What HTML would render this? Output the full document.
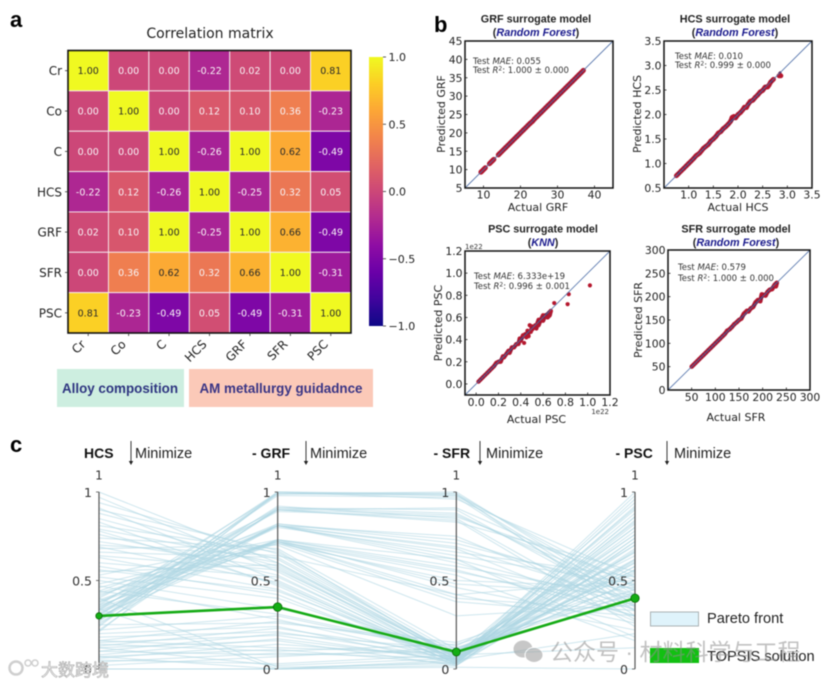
<!DOCTYPE html>
<html lang="en">
<head>
<meta charset="utf-8">
<title>Surrogate models and Pareto front figure</title>
<style>
  html,body{margin:0;padding:0;background:#fff;width:827px;height:684px;overflow:hidden}
  svg{display:block;filter:blur(0.5px)}
  text{font-family:"DejaVu Sans","Liberation Sans",sans-serif}
  .lib{font-family:"Liberation Sans","DejaVu Sans",sans-serif}
  .cjk{font-family:"Liberation Sans","Noto Sans CJK SC",sans-serif}
</style>
</head>
<body>
<svg id="fig" xmlns="http://www.w3.org/2000/svg" width="827" height="684" viewBox="0 0 827 684">
  <rect width="827" height="684" fill="#fff"/>
  <defs><linearGradient id="cbGrad" x1="0" y1="1" x2="0" y2="0"></linearGradient></defs>

  <text class="lib" x="10" y="27" font-size="22" font-weight="700">a</text>
  <text class="lib" x="434" y="32" font-size="22" font-weight="700">b</text>
  <text class="lib" x="10" y="452" font-size="22" font-weight="700">c</text>

  <text x="210" y="38" font-size="14" text-anchor="middle" fill="#222">Correlation matrix</text>
  <g id="heatmap"></g>
  <g id="colorbar"></g>

  <rect x="57" y="369" width="127" height="38" fill="#cdeee0"/>
  <text class="lib" x="120" y="393" font-size="13.4" font-weight="700" text-anchor="middle" fill="#2e3580">Alloy composition</text>
  <rect x="189" y="369" width="184" height="38" fill="#fbc9b8"/>
  <text class="lib" x="281" y="393" font-size="13.4" font-weight="700" text-anchor="middle" fill="#3a3585">AM metallurgy guidadnce</text>

  <g id="scatters"></g>
  <g id="parallel"></g>

  <g>
    <rect x="650.5" y="612" width="48" height="14" fill="#dff3fb" stroke="#aab2b5"/>
    <text class="lib" x="707" y="623" font-size="14.6" fill="#222">Pareto front</text>
    <rect x="650" y="648" width="49" height="15" fill="#12c012"/>
    <text class="lib" x="707" y="661" font-size="14.6" fill="#222">TOPSIS solution</text>
  </g>

  <g opacity="0.55">
    <ellipse cx="523" cy="649" rx="9.5" ry="8.5" fill="#9a9a9a"/>
    <ellipse cx="534" cy="655" rx="9" ry="7.5" fill="#9a9a9a" stroke="#fff"/>
    <text class="cjk" x="550" y="660" font-size="23" fill="#8f8f8f" xml:space="preserve">公众号 · 材料科学与工程</text>
  </g>
  <g>
    <circle cx="16" cy="668" r="6.5" fill="none" stroke="#cfcfcf" stroke-width="2.5"/>
    <circle cx="28" cy="663" r="3" fill="none" stroke="#cfcfcf" stroke-width="1.5"/>
    <circle cx="35" cy="663" r="3" fill="none" stroke="#cfcfcf" stroke-width="1.5"/>
    <text class="cjk" x="41" y="676" font-size="17" fill="#f4f4f4" stroke="#a8a8a8" stroke-width="0.6">大数跨境</text>
  </g>
</svg>

<script>
/* ---------- chart data ---------- */
const matrixLabels = ['Cr','Co','C','HCS','GRF','SFR','PSC'];
const matrixValues = [
  [1.00,0.00,0.00,-0.22,0.02,0.00,0.81],
  [0.00,1.00,0.00,0.12,0.10,0.36,-0.23],
  [0.00,0.00,1.00,-0.26,1.00,0.62,-0.49],
  [-0.22,0.12,-0.26,1.00,-0.25,0.32,0.05],
  [0.02,0.10,1.00,-0.25,1.00,0.66,-0.49],
  [0.00,0.36,0.62,0.32,0.66,1.00,-0.31],
  [0.81,-0.23,-0.49,0.05,-0.49,-0.31,1.00]
];
const colorbarTicks = [1.0,0.5,0.0,-0.5,-1.0];

const grfActual = [9.3,9.6,9.9,10.2,10.5,11.6,11.9,12.2,12.5,12.8,14,14.4,14.9,15.4,16,16.6,17.2,17.8,18.4,19,19.6,20.2,20.8,21.4,22,22.6,23.2,23.8,24.4,25,25.6,26.2,26.8,27.4,28,28.6,29.2,29.8,30.4,31,31.6,32.2,32.8,33.4,34,34.6,35.2,35.8,36.4,37];
const grfPredicted = [9.3,9.6,9.9,10.2,10.5,11.6,11.9,12.2,12.5,12.8,14,14.4,14.9,15.4,16,16.6,17.2,17.8,18.4,19,19.6,20.2,20.8,21.4,22,22.6,23.1,23.8,24.4,25,25.6,26.2,26.8,27.4,28,28.6,29.2,29.8,30.4,31,31.6,32.2,32.8,33.4,34,34.6,35.2,35.8,36.4,37];

const hcsActual = [0.75,0.78,0.85,0.9,0.95,1.0,1.05,1.1,1.15,1.18,1.22,1.26,1.3,1.35,1.4,1.45,1.5,1.55,1.6,1.65,1.7,1.75,1.8,1.85,1.88,1.92,1.95,2.0,2.05,2.1,2.13,2.17,2.2,2.25,2.3,2.35,2.4,2.45,2.5,2.55,2.6,2.63,2.66,2.72,2.83,2.87];
const hcsPredicted = [0.75,0.78,0.85,0.9,0.95,1.0,1.05,1.1,1.16,1.18,1.21,1.26,1.31,1.35,1.39,1.46,1.5,1.55,1.62,1.65,1.71,1.75,1.8,1.86,1.94,1.96,1.93,2.0,2.04,2.1,2.15,2.14,2.2,2.27,2.29,2.35,2.4,2.46,2.49,2.56,2.56,2.6,2.66,2.72,2.79,2.79];

const pscActual = [0.02,0.04,0.06,0.08,0.1,0.12,0.14,0.16,0.18,0.2,0.22,0.24,0.25,0.27,0.29,0.3,0.32,0.34,0.36,0.38,0.39,0.4,0.42,0.43,0.44,0.45,0.46,0.47,0.48,0.49,0.5,0.5,0.52,0.53,0.54,0.55,0.56,0.56,0.58,0.6,0.6,0.62,0.64,0.66,0.67,0.7,0.82,0.83,1.02];
const pscPredicted = [0.02,0.04,0.06,0.08,0.1,0.12,0.14,0.16,0.19,0.2,0.2,0.25,0.24,0.27,0.3,0.28,0.33,0.33,0.36,0.36,0.41,0.39,0.44,0.37,0.45,0.42,0.48,0.43,0.53,0.47,0.52,0.49,0.51,0.53,0.5,0.55,0.58,0.53,0.58,0.62,0.57,0.62,0.6,0.62,0.66,0.73,0.72,0.81,0.89];

const sfrActual = [50,54,58,62,66,70,75,80,85,90,95,100,105,110,115,120,125,130,135,140,145,150,155,160,163,167,170,175,180,185,190,195,198,202,206,210,215,220,225,230,228];
const sfrPredicted = [50,54,58,62,66,70,75,80,85,90,95,100,105,110,115,120,127,130,135,141,145,150,153,163,166,170,168,175,178,188,193,190,205,204,202,210,215,216,225,230,222];

const axisNames = ['HCS','- GRF','- SFR','- PSC'];
const parallelTicks = [1,0.5,0];
const topsisSolution = [0.30,0.35,0.096,0.40];
/* one row per Pareto solution: HCS, GRF, SFR, PSC */
const paretoRows = [
  [0.21,1.00,0.99,0.30],[0.24,0.99,1.00,0.38],[0.27,1.00,0.98,0.46],[0.30,0.98,0.97,0.33],[0.33,1.00,0.96,0.52],[0.36,0.99,0.99,0.42],
  [0.22,0.91,0.90,0.35],[0.25,0.90,0.91,0.47],[0.28,0.92,0.85,0.28],[0.31,0.90,0.83,0.55],[0.34,0.91,0.88,0.40],[0.37,0.89,0.86,0.50],[0.40,0.90,0.84,0.24],
  [0.26,0.81,0.75,0.33],[0.29,0.82,0.71,0.45],[0.32,0.81,0.68,0.27],[0.35,0.80,0.66,0.52],[0.38,0.81,0.62,0.36],[0.41,0.82,0.73,0.42],[0.44,0.81,0.60,0.30],
  [0.30,0.73,0.58,0.40],[0.33,0.72,0.55,0.34],[0.36,0.71,0.50,0.46],[0.39,0.73,0.46,0.26],[0.42,0.72,0.42,0.50],[0.46,0.71,0.38,0.30],[0.48,0.72,0.53,0.16],
  [0.27,0.90,0.87,0.44],[0.35,0.81,0.69,0.38],[0.38,0.72,0.48,0.42],[0.43,0.72,0.40,0.33],[0.31,0.81,0.64,0.48],[0.28,0.99,0.98,0.36],[0.34,0.73,0.56,0.30],
  [1.00,0.60,0.08,0.94],[0.97,0.55,0.05,0.88],[0.94,0.65,0.07,0.80],[0.91,0.50,0.04,0.98],[0.88,0.62,0.06,0.76],[0.85,0.58,0.05,0.70],[0.83,0.47,0.03,0.84],
  [0.81,0.66,0.09,0.66],[0.79,0.60,0.06,0.91],[0.76,0.53,0.04,0.72],[0.74,0.68,0.11,0.60],[0.72,0.57,0.05,0.78],[0.69,0.49,0.03,0.86],[0.66,0.63,0.08,0.56],
  [0.63,0.45,0.03,0.68],[0.60,0.52,0.05,0.74],[0.58,0.42,0.02,0.62],[0.55,0.59,0.07,0.50],[0.52,0.40,0.04,0.82],
  [0.50,0.34,0.13,0.64],[0.47,0.28,0.05,0.58],[0.44,0.31,0.10,0.70],[0.25,0.26,0.15,0.48],[0.22,0.30,0.09,0.76],[0.20,0.24,0.03,0.60],[0.18,0.21,0.06,0.90],
  [0.16,0.27,0.12,0.45],[0.15,0.19,0.04,0.67],[0.13,0.23,0.08,0.54],[0.12,0.16,0.02,0.72],[0.10,0.20,0.11,0.43],[0.08,0.17,0.05,0.80],[0.06,0.14,0.07,0.50],
  [0.16,0.12,0.09,0.62],[0.14,0.10,0.14,0.42],[0.10,0.08,0.10,0.56],[0.07,0.11,0.03,0.86],[0.04,0.09,0.06,0.66],[0.02,0.07,0.12,0.38],[0.00,0.00,0.01,0.00],
  [0.40,0.01,0.03,0.96],[0.34,0.00,0.05,1.00],[0.12,0.02,0.06,0.83],[0.07,0.00,0.02,0.74],[0.05,0.03,0.08,0.61],[0.00,0.00,0.04,0.92],
  [0.70,0.64,0.42,0.22],[0.64,0.56,0.08,0.12],[0.78,0.48,0.05,0.20],[0.56,0.44,0.06,0.58],[0.90,0.67,0.06,0.55],[0.53,0.73,0.62,0.18],[0.68,0.70,0.30,0.36]
];

/* ---------- helpers ---------- */
const NS = 'http://www.w3.org/2000/svg';
function add(parent, tag, attrs, txt) {
  const el = document.createElementNS(NS, tag);
  for (const k in attrs) el.setAttribute(k, attrs[k]);
  if (txt !== undefined) el.textContent = txt;
  parent.appendChild(el);
  return el;
}
function linear(d0, d1, r0, r1) { return v => r0 + (v - d0) * (r1 - r0) / (d1 - d0); }
const plasmaStops = ['#0d0887','#41049d','#6a00a8','#8f0da4','#b12a90','#cc4778','#e16462','#f2844b','#fca636','#fcce25','#f0f921'];
function hexRgb(h) { return [1,3,5].map(i => parseInt(h.substr(i,2),16)); }
function plasma(t) {
  t = Math.max(0, Math.min(1, t));
  const p = t * 10, i = Math.min(9, Math.floor(p)), f = p - i;
  const a = hexRgb(plasmaStops[i]), b = hexRgb(plasmaStops[i+1]);
  return 'rgb(' + a.map((c,j) => Math.round(c + (b[j]-c)*f)).join(',') + ')';
}
function fmt(v, d) { return v.toFixed(d); }

/* ---------- heatmap ---------- */
(function () {
  const g = document.getElementById('heatmap');
  const L = 68, R = 351, T = 50.5, B = 333;
  const n = matrixLabels.length;
  const col = linear(0, n, L, R), row = linear(0, n, T, B);
  const cw = (R - L) / n, ch = (B - T) / n;
  matrixValues.forEach((rowVals, r) => {
    rowVals.forEach((v, c) => {
      const cell = add(g, 'rect', {x: col(c), y: row(r), width: cw, height: ch, fill: plasma((v + 1) / 2), stroke: '#f7eef2', 'stroke-width': 0.9});
      
      
      const t = add(g, 'text', {x: col(c + 0.5), y: row(r + 0.5) + 3.5, 'font-size': 9.5, 'text-anchor': 'middle', fill: v > 0.5 ? '#2a2a2a' : '#f7f3f5'}, fmt(v, 2));
      
      
    });
  });
  const frame = add(g, 'rect', {x: L, y: T, width: R - L, height: B - T, fill: 'none', stroke: '#111', 'stroke-width': 1.6});
  
  
  matrixLabels.forEach((lab, i) => {
    const yl = add(g, 'text', {x: 62, y: row(i + 0.5) + 4.5, 'font-size': 12, 'text-anchor': 'end', fill: '#222'}, lab);
    
    
    const yt = add(g, 'line', {x1: 65, x2: 68, y1: row(i + 0.5), y2: row(i + 0.5), stroke: '#333', 'stroke-width': 0.8});
    
    
    const xt = add(g, 'line', {x1: col(i + 0.5), x2: col(i + 0.5), y1: 333, y2: 336, stroke: '#333', 'stroke-width': 0.8});
    
    
    const xl = add(g, 'text', {transform: 'translate(' + (col(i + 0.5) - 2) + ',345) rotate(-45)', 'font-size': 12, 'text-anchor': 'end', fill: '#222'}, lab);
    
    
  });
})();

/* ---------- colorbar ---------- */
(function () {
  const grad = document.getElementById('cbGrad');
  plasmaStops.forEach((c, i) => add(grad, 'stop', {offset: (i * 10) + '%', 'stop-color': c}));
  const g = document.getElementById('colorbar');
  const y = linear(-1, 1, 326, 57);
  const bar = add(g, 'rect', {x: 369, y: 57, width: 14, height: 269, fill: 'url(#cbGrad)'});
  
  
  colorbarTicks.forEach(v => {
    const tk = add(g, 'line', {x1: 383, x2: 386, y1: y(v), y2: y(v), stroke: '#333', 'stroke-width': 0.8});
    
    
    const lb = add(g, 'text', {x: 388.5, y: y(v) + 4, 'font-size': 11, fill: '#222'}, fmt(v, 1).replace('-', '\u2212'));
    
    
  });
})();

/* ---------- scatter panels ---------- */
function scatterPanel(o) {
  const root = document.getElementById('scatters');
  const g = add(root, 'g', {});
  
  
  const x = linear(o.dom[0], o.dom[1], o.L, o.R);
  const y = linear(o.dom[0], o.dom[1], o.B, o.T);
  const cx = (o.L + o.R) / 2;

  const t1 = add(g, 'text', {x: o.tcx, y: o.ty, 'font-size': 10.8, 'font-weight': 700, 'text-anchor': 'middle', fill: '#222', class: 'lib'}, o.name + ' surrogate model');
  
  
  const t2 = add(g, 'text', {x: o.tcx, y: o.ty + 13.5, 'font-size': 10.8, 'font-weight': 700, 'text-anchor': 'middle', fill: '#222', class: 'lib'});
  
  
  add(t2, 'tspan', {}, '(');
  add(t2, 'tspan', {'font-style': 'italic', fill: '#1a1a8c'}, o.model);
  add(t2, 'tspan', {}, ')');

  o.actual.forEach((a, i) => {
    const pt = add(g, 'circle', {cx: x(a), cy: y(o.pred[i]), r: o.r, fill: '#b5172e'});
    
    
    const nextA = o.actual[i + 1];
    if (nextA !== undefined && Math.abs(nextA - a) < o.gap && Math.abs(o.pred[i + 1] - o.pred[i]) < o.gap * 2) {
      const seg = add(g, 'line', {x1: x(a), y1: y(o.pred[i]), x2: x(nextA), y2: y(o.pred[i + 1]), stroke: '#a81a34', 'stroke-width': o.r * 2});
      
      
      const core = add(g, 'line', {x1: x(a), y1: y(a), x2: x(nextA), y2: y(nextA), stroke: '#6a1a42', 'stroke-width': 2.6});
      
      
    }
  });
  const diag = add(g, 'line', {x1: x(o.dom[0]), y1: y(o.dom[0]), x2: x(o.dom[1]), y2: y(o.dom[1]), stroke: '#4f6fa8', 'stroke-width': 0.9, 'stroke-opacity': 0.9});
  
  
  const frame = add(g, 'rect', {x: o.L, y: o.T, width: o.R - o.L, height: o.B - o.T, fill: 'none', stroke: '#111', 'stroke-width': 1.5});
  
  

  o.xt.forEach(v => {
    const tk = add(g, 'line', {x1: x(v), x2: x(v), y1: o.B, y2: o.B - 2.5, stroke: '#222', 'stroke-width': 0.8});
    
    
    const lb = add(g, 'text', {x: x(v), y: o.B + o.xtGap, 'font-size': 10.8, 'text-anchor': 'middle', fill: '#222'}, fmt(v, o.dec));
    
    
  });
  o.yt.forEach(v => {
    const tk = add(g, 'line', {x1: o.L, x2: o.L + 2.5, y1: y(v), y2: y(v), stroke: '#222', 'stroke-width': 0.8});
    
    
    const lb = add(g, 'text', {x: o.L - 2.5, y: y(v) + 4, 'font-size': 10.8, 'text-anchor': 'end', fill: '#222'}, fmt(v, o.dec));
    
    
  });
  const xl = add(g, 'text', {x: cx + o.xlOff, y: o.xly, 'font-size': 11, 'text-anchor': 'middle', fill: '#222'}, 'Actual ' + o.name);
  
  
  const yl = add(g, 'text', {transform: 'translate(' + o.ylx + ',' + o.yly + ') rotate(-90)', 'font-size': 11, 'text-anchor': 'middle', fill: '#222'}, 'Predicted ' + o.name);
  
  

  const a1 = add(g, 'text', {x: o.ax, y: o.ay, 'font-size': 8.5, fill: '#333'});
  
  
  add(a1, 'tspan', {}, 'Test ');
  add(a1, 'tspan', {'font-style': 'italic'}, 'MAE');
  add(a1, 'tspan', {}, ': ' + o.mae);
  const a2 = add(g, 'text', {x: o.ax, y: o.ay + o.aGap, 'font-size': 8.5, fill: '#333'});
  
  
  add(a2, 'tspan', {}, 'Test ');
  add(a2, 'tspan', {'font-style': 'italic'}, 'R');
  add(a2, 'tspan', {dy: -2.5, 'font-size': 6}, '2');
  add(a2, 'tspan', {dy: 2.5}, ': ' + o.r2);
  return g;
}

scatterPanel({key:'grf', name:'GRF', model:'Random Forest', dom:[5,45], L:465, R:613, T:41, B:188, tcx:536, ty:22.5,
  actual:grfActual, pred:grfPredicted, r:2.5, gap:0.8, xt:[10,20,30,40], yt:[5,10,15,20,25,30,35,40,45], dec:0, xtGap:10.5,
  xlOff:-1, xly:211, ylx:445, yly:114, ax:473, ay:64, aGap:9, mae:'0.055', r2:'1.000 \u00b1 0.000'});
scatterPanel({key:'hcs', name:'HCS', model:'Random Forest', dom:[0.5,3.5], L:664, R:812, T:41, B:188, tcx:735, ty:22.5,
  actual:hcsActual, pred:hcsPredicted, r:2.4, gap:0.1, xt:[1,1.5,2,2.5,3,3.5], yt:[0.5,1,1.5,2,2.5,3,3.5], dec:1, xtGap:10.5,
  xlOff:0, xly:211, ylx:641, yly:114, ax:675, ay:59, aGap:9, mae:'0.010', r2:'0.999 \u00b1 0.000'});
const pscPanel = scatterPanel({key:'psc', name:'PSC', model:'KNN', dom:[-0.1,1.2], L:465, R:610, T:251, B:395, tcx:543, ty:232.5,
  actual:pscActual, pred:pscPredicted, r:2.1, gap:0.03, xt:[0,0.2,0.4,0.6,0.8,1,1.2], yt:[0,0.2,0.4,0.6,0.8,1,1.2], dec:1, xtGap:11,
  xlOff:-1, xly:423, ylx:442, yly:323, ax:474, ay:279, aGap:10, mae:'6.333e+19', r2:'0.996 \u00b1 0.001'});
scatterPanel({key:'sfr', name:'SFR', model:'Random Forest', dom:[0,300], L:668, R:810, T:250, B:390, tcx:736, ty:232.5,
  actual:sfrActual, pred:sfrPredicted, r:2.2, gap:10, xt:[50,100,150,200,250,300], yt:[0,50,100,150,200,250,300], dec:0, xtGap:11,
  xlOff:-3, xly:421, ylx:642, yly:320, ax:678, ay:270, aGap:11, mae:'0.579', r2:'1.000 \u00b1 0.000'});
(function () {
  const o1 = add(pscPanel, 'text', {x: 465, y: 249, 'font-size': 7, fill: '#333'}, '1e22');
  
  
  const o2 = add(pscPanel, 'text', {x: 609, y: 414, 'font-size': 7, 'text-anchor': 'end', fill: '#333'}, '1e22');
  
  
})();

/* ---------- parallel coordinates ---------- */
(function () {
  const g = document.getElementById('parallel');
  const x = linear(0, 3, 99, 635);
  const y = linear(0, 1, 669, 492);
  const titleX = [99, 271.5, 453, 635];
  const arrowX = [131, 306, 480, 667];
  const minX = [135, 310, 486, 674];

  paretoRows.forEach(r => {
    const pl = add(g, 'polyline', {points: r.map((v, i) => x(i) + ',' + y(v)).join(' '), fill: 'none', stroke: '#add6e3', 'stroke-width': 1, 'stroke-opacity': 0.6});
    
    
  });

  axisNames.forEach((nm, i) => {
    const ax = add(g, 'line', {x1: x(i), x2: x(i), y1: y(1), y2: y(0), stroke: '#555', 'stroke-width': 1.2});
    
    
    const top = add(g, 'text', {x: x(i), y: 479.5, 'font-size': 12, 'text-anchor': 'middle', fill: '#333'}, '1');
    
    
    parallelTicks.forEach(v => {
      const tk = add(g, 'line', {x1: x(i) - 3, x2: x(i), y1: y(v), y2: y(v), stroke: '#555', 'stroke-width': 0.8});
      
      
      const lb = add(g, 'text', {x: x(i) - 7, y: y(v) + 5, 'font-size': 12.5, 'text-anchor': 'end', fill: '#333'}, String(v));
      
      
    });
    const tt = add(g, 'text', {x: i === 0 ? 84 : titleX[i] - 19.5, y: 458, 'font-size': 14, 'font-weight': 700, fill: '#111', class: 'lib'}, nm);
    
    
    const ar = add(g, 'line', {x1: arrowX[i], x2: arrowX[i], y1: 441, y2: 463, stroke: '#222', 'stroke-width': 0.9});
    
    
    const hd = add(g, 'path', {d: 'M' + (arrowX[i] - 2.2) + ' 461 L' + (arrowX[i] + 2.2) + ' 461 L' + arrowX[i] + ' 465 Z', fill: '#222'});
    
    
    const mn = add(g, 'text', {x: minX[i], y: 458, 'font-size': 14.5, fill: '#222', class: 'lib'}, 'Minimize');
    
    
  });

  const sol = add(g, 'polyline', {points: topsisSolution.map((v, i) => x(i) + ',' + y(v)).join(' '), fill: 'none', stroke: '#16ab16', 'stroke-width': 2.6});
  
  
  const radii = [3.2, 4.3, 4, 4.2];
  topsisSolution.forEach((v, i) => {
    const m = add(g, 'circle', {cx: x(i), cy: y(v), r: radii[i], fill: '#14ad14', stroke: '#0b6b0b', 'stroke-width': 0.8});
    
    
  });
})();
</script>
</body>
</html>
